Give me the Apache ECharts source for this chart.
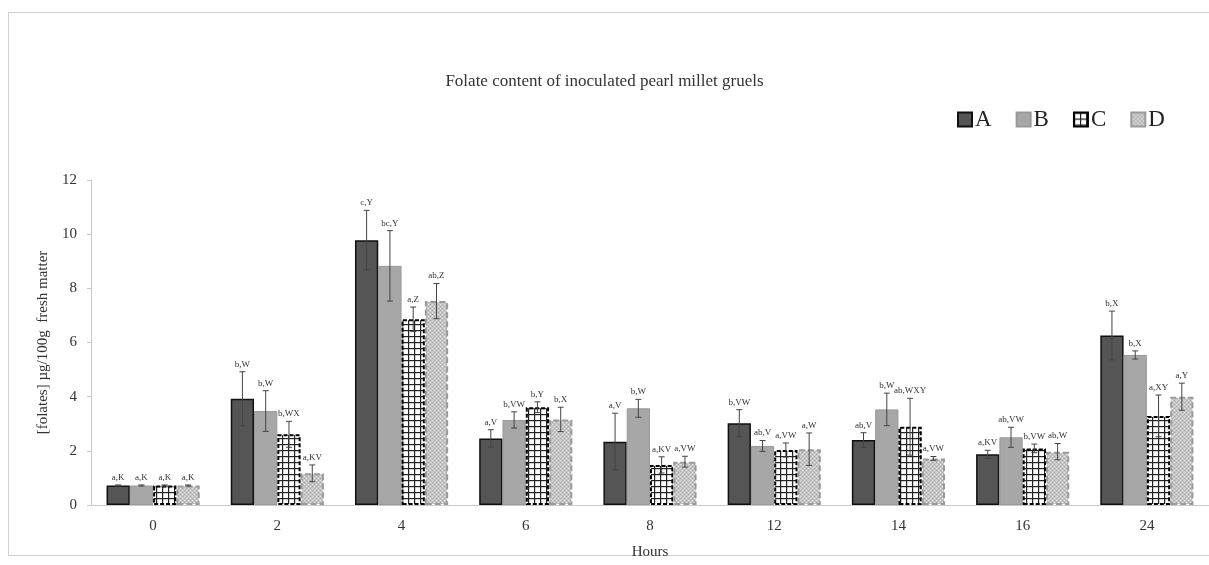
<!DOCTYPE html>
<html>
<head>
<meta charset="utf-8">
<script src="https://cdn.jsdelivr.net/npm/echarts@6/dist/echarts.min.js"></script>
<style>html,body{margin:0;padding:0;background:#fff}#c{width:1209px;height:565px}</style>
</head>
<body>
<div id="c"></div>
<script>
const hours = ['0','2','4','6','8','12','14','16','24'];
const seriesNames = ['A','B','C','D'];
const valuesA = [0.72, 3.92, 9.78, 2.46, 2.34, 3.02, 2.40, 1.87, 6.26];
const valuesB = [0.72, 3.47, 8.83, 3.14, 3.57, 2.18, 3.53, 2.50, 5.54];
const valuesC = [0.72, 2.61, 6.86, 3.61, 1.48, 2.03, 2.89, 2.09, 3.29];
const valuesD = [0.72, 1.17, 7.53, 3.16, 1.60, 2.06, 1.72, 1.97, 4.00];
const errA = [0.02, 1.00, 1.10, 0.32, 1.05, 0.50, 0.27, 0.15, 0.90];
const errB = [0.02, 0.75, 1.30, 0.30, 0.33, 0.20, 0.60, 0.37, 0.15];
const errC = [0.02, 0.48, 0.45, 0.20, 0.30, 0.26, 1.05, 0.16, 0.77];
const errD = [0.02, 0.31, 0.65, 0.45, 0.20, 0.60, 0.07, 0.30, 0.50];
const lettersA = ['a,K','b,W','c,Y','a,V','a,V','b,VW','ab,V','a,KV','b,X'];
const lettersB = ['a,K','b,W','bc,Y','b,VW','b,W','ab,V','b,W','ab,VW','b,X'];
const lettersC = ['a,K','b,WX','a,Z','b,Y','a,KV','a,VW','ab,WXY','b,VW','a,XY'];
const lettersD = ['a,K','a,KV','ab,Z','b,X','a,VW','a,W','a,VW','ab,W','a,Y'];
const yTicks = {min: 0, max: 12, interval: 2};

const allValues = [valuesA, valuesB, valuesC, valuesD];
const allErr = [errA, errB, errC, errD];
const allLetters = [lettersA, lettersB, lettersC, lettersD];

function makeGrid() {
  const cv = document.createElement('canvas');
  cv.width = 6; cv.height = 6;
  const g = cv.getContext('2d');
  g.fillStyle = '#ffffff'; g.fillRect(0,0,6,6);
  g.fillStyle = '#222222';
  g.fillRect(0,0,6,1.2);
  g.fillRect(0,0,1.2,6);
  return cv;
}
function makeDots() {
  const cv = document.createElement('canvas');
  cv.width = 4; cv.height = 4;
  const g = cv.getContext('2d');
  g.fillStyle = '#c4c4c4'; g.fillRect(0,0,4,4);
  g.fillStyle = '#e8e8e8';
  g.fillRect(0,0,1,1); g.fillRect(2,2,1,1);
  g.fillStyle = '#a9a9a9';
  g.fillRect(2,0,1,1); g.fillRect(0,2,1,1);
  return cv;
}
const patC = {image: makeGrid(), repeat: 'repeat'};
const patD = {image: makeDots(), repeat: 'repeat'};

const styles = [
  {color: '#555555', borderColor: '#111', borderWidth: 1.5},
  {color: '#a7a7a7', borderColor: '#999', borderWidth: 1},
  {color: patC, borderColor: '#000', borderWidth: 2, borderType: [4, 2]},
  {color: patD, borderColor: '#9a9a9a', borderWidth: 2, borderType: [6, 3]}
];

const serif = 'Liberation Serif, DejaVu Serif, serif';
const barSeries = seriesNames.map((n, i) => ({
  name: n, type: 'bar', data: allValues[i],
  barGap: '0%', barCategoryGap: '25%',
  itemStyle: styles[i], z: 2
}));

const errData = [];
for (let s = 0; s < 4; s++) {
  for (let k = 0; k < hours.length; k++) {
    errData.push([k, allValues[s][k], allErr[s][k], s, allLetters[s][k]]);
  }
}

const errSeries = {
  type: 'custom', name: 'err', z: 5, silent: true,
  data: errData,
  encode: {x: 0, y: 1},
  renderItem: function (params, api) {
    const k = api.value(0), v = api.value(1), e = api.value(2), s = api.value(3);
    const band = api.size([1, 0])[0];
    const bw = band * 0.75 / 4;
    const c = api.coord([k, v]);
    const x = c[0] + (s - 1.5) * bw;
    const yt = api.coord([k, v + e])[1];
    const yb = api.coord([k, v - e])[1];
    const cap = 3;
    const label = errData[params.dataIndex][4];
    const lineStyle = {stroke: '#444', lineWidth: 1};
    return {
      type: 'group',
      children: [
        {type: 'line', shape: {x1: x, y1: yt, x2: x, y2: yb}, style: lineStyle},
        {type: 'line', shape: {x1: x - cap, y1: yt, x2: x + cap, y2: yt}, style: lineStyle},
        {type: 'line', shape: {x1: x - cap, y1: yb, x2: x + cap, y2: yb}, style: lineStyle},
        {type: 'text', style: {text: label, x: x, y: yt - 3, align: 'center', verticalAlign: 'bottom',
          fill: '#333', font: '9px ' + serif}}
      ]
    };
  }
};

const chart = echarts.init(document.getElementById('c'));
chart.setOption({
  animation: false,
  backgroundColor: '#fff',
  graphic: [{type: 'rect', shape: {x: 8.5, y: 12.5, width: 1215, height: 543},
    style: {fill: 'none', stroke: '#cfcfcf', lineWidth: 1}, z: -1}],
  title: {
    text: 'Folate content of inoculated pearl millet gruels',
    left: 'center', top: 68,
    textStyle: {fontFamily: serif, fontSize: 17, fontWeight: 'normal', color: '#333'}
  },
  legend: {
    data: seriesNames, left: 952, top: 103,
    itemWidth: 14, itemHeight: 14, itemGap: 24, icon: 'rect',
    textStyle: {fontFamily: serif, fontSize: 23, color: '#222', padding: [0, 0, 0, -2]}
  },
  grid: {left: 91, top: 180, height: 325, width: 1121},
  xAxis: {
    type: 'category', data: hours,
    name: 'Hours', nameLocation: 'middle', nameGap: 40,
    nameTextStyle: {fontFamily: serif, fontSize: 15, color: '#333'},
    axisLine: {lineStyle: {color: '#c8c8c8'}},
    axisTick: {show: false},
    axisLabel: {fontFamily: serif, fontSize: 15, color: '#333', margin: 14}
  },
  yAxis: {
    type: 'value', min: yTicks.min, max: yTicks.max, interval: yTicks.interval,
    name: '[folates] µg/100g  fresh matter', nameLocation: 'middle', nameGap: 40,
    nameTextStyle: {fontFamily: serif, fontSize: 15, color: '#333'},
    axisLine: {show: true, lineStyle: {color: '#c8c8c8'}},
    axisTick: {show: true, length: 4, lineStyle: {color: '#c8c8c8'}},
    splitLine: {show: false},
    axisLabel: {fontFamily: serif, fontSize: 15, color: '#333', margin: 14}
  },
  series: barSeries.concat([errSeries])
});
</script>
</body>
</html>
